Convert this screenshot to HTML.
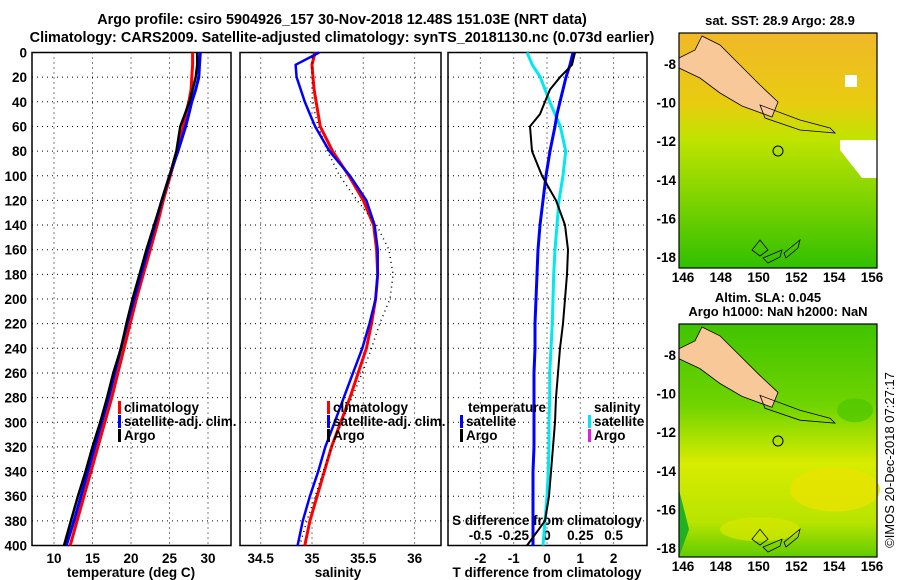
<!DOCTYPE html>
<html><head><meta charset="utf-8"><style>
html,body{margin:0;padding:0;background:#fff;overflow:hidden;}
svg{display:block;font-family:"Liberation Sans",Arial,sans-serif;font-weight:bold;}
</style></head><body>
<svg id="fig" width="900" height="580" viewBox="0 0 900 580" xmlns="http://www.w3.org/2000/svg">
<defs>
<linearGradient id="sstg" x1="0" y1="0" x2="0" y2="1">
<stop offset="0" stop-color="#f0b828"/><stop offset="0.3" stop-color="#e8cc10"/><stop offset="0.45" stop-color="#c0e400"/><stop offset="0.7" stop-color="#80d400"/><stop offset="1" stop-color="#30c000"/>
</linearGradient>
<linearGradient id="slag" x1="0" y1="0" x2="0" y2="1">
<stop offset="0" stop-color="#40c400"/><stop offset="0.35" stop-color="#70d400"/><stop offset="0.6" stop-color="#d8ec00"/><stop offset="0.85" stop-color="#b8e400"/><stop offset="1" stop-color="#60cc00"/>
</linearGradient>
</defs>
</svg>
<script>
// ---- data ----
const depths = [0,10,20,30,40,50,60,80,100,120,140,160,180,200,220,240,260,280,300,320,340,360,380,400];
const tempArgo = [28.6,28.6,28.4,28.0,27.6,27.0,26.4,25.9,25.0,24.0,23.0,22.0,21.1,20.2,19.4,18.7,17.7,16.9,16.0,15.0,14.1,13.1,12.2,11.3];
const tempClim = [28.0,28.0,27.9,27.8,27.5,27.1,26.8,26.0,25.1,24.2,23.4,22.5,21.6,20.7,19.9,19.1,18.3,17.5,16.6,15.7,14.8,13.9,13.0,12.1];
const tempSat = [29.0,28.9,28.8,28.4,27.9,27.5,27.1,26.1,25.0,24.0,23.1,22.2,21.3,20.4,19.5,18.7,17.9,17.1,16.2,15.3,14.4,13.5,12.6,11.6];
const salArgo = [35.01,35.0,35.0,35.0,35.01,35.03,35.06,35.15,35.27,35.44,35.63,35.75,35.79,35.76,35.66,35.58,35.49,35.39,35.29,35.19,35.11,35.03,34.95,34.88];
const salClim = [35.03,35.0,35.01,35.02,35.04,35.06,35.08,35.2,35.36,35.5,35.6,35.63,35.64,35.62,35.58,35.53,35.45,35.37,35.28,35.19,35.12,35.05,34.98,34.93];
const salSat = [35.07,34.84,34.85,34.89,34.93,34.98,35.03,35.17,35.37,35.53,35.61,35.64,35.64,35.62,35.56,35.49,35.4,35.31,35.22,35.13,35.06,34.98,34.91,34.86];
const dTArgo = [0.84,0.75,0.39,0.09,-0.06,-0.21,-0.51,-0.45,-0.15,0.27,0.54,0.63,0.6,0.54,0.48,0.39,0.33,0.27,0.24,0.18,0.12,0.06,-0.06,-0.6];
const dTSat = [0.78,0.69,0.57,0.48,0.39,0.3,0.24,0.09,-0.03,-0.12,-0.21,-0.27,-0.3,-0.33,-0.36,-0.36,-0.39,-0.39,-0.39,-0.39,-0.42,-0.42,-0.42,-0.42];
const dSSat = [-0.15,-0.11,-0.05,-0.015,0.02,0.06,0.1,0.14,0.12,0.09,0.075,0.06,0.05,0.045,0.04,0.03,0.02,0.02,0.015,0.015,0.01,0,-0.015,-0.03];
const depthTicks = [0,20,40,60,80,100,120,140,160,180,200,220,240,260,280,300,320,340,360,380,400];
const tempTicks = [10,15,20,25,30];
const salTicks = [34.5,35,35.5,36];
const dTTicks = [-2,-1,0,1,2];
const dSTicks = [-0.5,-0.25,0,0.25,0.5];
const dSTickLabels = ["-0.5","-0.25","0","0.25","0.5"];
const lonTicks = [146,148,150,152,154,156];
const latTicks = [-8,-10,-12,-14,-16,-18];

const NS="http://www.w3.org/2000/svg";
const svg=document.getElementById('fig');
function mk(tag,attrs,parent){const e=document.createElementNS(NS,tag);for(const k in attrs)e.setAttribute(k,attrs[k]);(parent||svg).appendChild(e);return e;}
function txt(s,x,y,anchor,size,parent){const t=mk('text',{x:x,y:y,'text-anchor':anchor||'middle','font-size':size||13},parent);t.textContent=s;return t;}

const yD=d=>52.5+d*1.2325;
const xT=v=>54+(v-10)*7.7;
const xS=v=>312+(v-35)*102.6;
const xDT=v=>547+v*33.3;
const xDS=v=>547+v*133.3;
const panels=[{x0:32,x1:231,name:'temperature'},{x0:240,x1:441,name:'salinity'},{x0:448,x1:647,name:'difference'}];
const FS=13.5;

let t=txt('Argo profile: csiro 5904926_157 30-Nov-2018 12.48S 151.03E (NRT data)',342,24,'middle',14.4);


t=txt('Climatology: CARS2009. Satellite-adjusted climatology: synTS_20181130.nc (0.073d earlier)',342,42,'middle',14.4);



panels.forEach((p,i)=>{
  const g=mk('g',{});
  
  
  depthTicks.forEach(d=>{
    if(d>0&&d<400){const l=mk('line',{x1:p.x0,x2:p.x1,y1:yD(d),y2:yD(d),stroke:'#000','stroke-dasharray':'1 4'},g);
    
    }
  });
  let xs, xf;
  if(i==0){xs=tempTicks;xf=xT;} else if(i==1){xs=salTicks;xf=xS;} else {xs=dTTicks;xf=xDT;}
  xs.forEach(v=>{
    const l=mk('line',{x1:xf(v),x2:xf(v),y1:yD(0),y2:yD(400),stroke:'#000','stroke-dasharray':'1 4'},g);
    
    
    const lb=txt(String(v),xf(v),563,'middle',FS,g);
    
    
  });
  const r=mk('rect',{x:p.x0,y:yD(0),width:p.x1-p.x0,height:yD(400)-yD(0),fill:'none',stroke:'#000','stroke-width':1.5},g);
  
  
});
depthTicks.forEach(d=>{
  const lb=txt(String(d),27,yD(d)+5,'end',FS);
  
  
});
t=txt('temperature (deg C)',131,577,'middle',FS);


t=txt('salinity',338,577,'middle',FS);


t=txt('T difference from climatology',547,577,'middle',FS);


t=txt('S difference from climatology',547,525,'middle',FS);


dSTicks.forEach((v,k)=>{
  const lb=txt(dSTickLabels[k],xDS(v),540,'middle',FS);
  
  
});

function line(vals,xf,color,w,dash,name){
  const pts=vals.map((v,k)=>xf(v).toFixed(1)+','+yD(depths[k]).toFixed(1)).join(' ');
  const a={points:pts,fill:'none',stroke:color,'stroke-width':w,'stroke-linejoin':'round'};
  if(dash)a['stroke-dasharray']=dash;
  const e=mk('polyline',a);
  
  
}
line(tempClim,xT,'#ff0000',3,null,'temp-climatology-line');
line(tempSat,xT,'#0000ff',3,null,'temp-satellite-line');
line(tempArgo,xT,'#000',2.5,null,'temp-argo-line');
line(salClim,xS,'#ff0000',3,null,'sal-climatology-line');
line(salSat,xS,'#0000ff',2.5,null,'sal-satellite-line');
line(salArgo,xS,'#000',1.5,'1 4','sal-argo-line');
line(dSSat,xDS,'#00e8f0',3,null,'sdiff-satellite-line');
line(dTSat,xDT,'#0000ff',3,null,'tdiff-satellite-line');
line(dTArgo,xDT,'#000',2,null,'tdiff-argo-line');

function legend(x,y,color,label,name){
  const g=mk('g',{});
  
  
  mk('rect',{x:x,y:y-11,width:3,height:13,fill:color},g);
  txt(label,x+6,y,'start',FS,g);
}
[[118,0],[327,1]].forEach(([lx,k])=>{
  legend(lx,412,'#ff0000','climatology','legend-climatology');
  legend(lx,426,'#0000ff','satellite-adj. clim.','legend-satellite-adj');
  legend(lx,440,'#000','Argo','legend-argo');
});
t=txt('temperature',468,412,'start',FS);


legend(460,426,'#0000ff','satellite','legend-temp-satellite');
legend(460,440,'#000','Argo','legend-temp-argo');
t=txt('salinity',594,412,'start',FS);


legend(588,426,'#00e8f0','satellite','legend-sal-satellite');
legend(588,440,'#e020e0','Argo','legend-sal-argo');

function map(y0,y1,fill,name,lat0){
  const g=mk('g',{});
  
  
  const x0=679,x1=877;
  mk('rect',{x:x0,y:y0,width:x1-x0,height:y1-y0,fill:fill},g);
  const h=y1-y0, s=h/235;
  const Y=v=>y0+(v-33)*s;
  if(name==='sst-map'){
    mk('polygon',{points:`840,${Y(140)} 877,${Y(140)} 877,${Y(178)} 862,${Y(178)} 840,${Y(150)}`,fill:'#fff'},g);
    mk('rect',{x:845,y:Y(75),width:12,height:12,fill:'#fff'},g);
  } else {
    mk('ellipse',{cx:835,cy:Y(200),rx:45,ry:22,fill:'#e8e400',opacity:0.8},g);
    mk('ellipse',{cx:760,cy:Y(240),rx:40,ry:12,fill:'#d8e800',opacity:0.7},g);
    mk('ellipse',{cx:855,cy:Y(120),rx:18,ry:12,fill:'#50c800',opacity:0.8},g);
    mk('polygon',{points:`${x0},${Y(200)} ${x0+10},${Y(240)} ${x0},${Y(268)}`,fill:'#20b020'},g);
  }
  mk('polygon',{points:`702,${Y(36)} 720,${Y(45)} 740,${Y(65)} 760,${Y(85)} 778,${Y(102)} 772,${Y(117)} 742,${Y(106)} 720,${Y(93)} 700,${Y(78)} ${x0},${Y(68)} ${x0},${Y(58)} 695,${Y(50)}`,fill:'#f8c898',stroke:'#000','stroke-width':0.8},g);
  mk('polygon',{points:`760,${Y(105)} 800,${Y(120)} 830,${Y(128)} 835,${Y(133)} 800,${Y(130)} 765,${Y(118)}`,fill:'none',stroke:'#000','stroke-width':0.8},g);
  mk('polygon',{points:`752,${Y(250)} 760,${Y(240)} 768,${Y(250)} 760,${Y(256)}`,fill:'none',stroke:'#000','stroke-width':0.8},g);
  mk('polygon',{points:`763,${Y(258)} 782,${Y(250)} 780,${Y(257)} 768,${Y(263)}`,fill:'none',stroke:'#000','stroke-width':0.8},g);
  mk('polygon',{points:`784,${Y(253)} 800,${Y(240)} 798,${Y(248)} 786,${Y(258)}`,fill:'none',stroke:'#000','stroke-width':0.8},g);
  mk('circle',{cx:778,cy:Y(151),r:5,fill:'none',stroke:'#000','stroke-width':1},g);
  mk('rect',{x:x0,y:y0,width:x1-x0,height:h,fill:'none',stroke:'#000','stroke-width':1.2},g);
  const xL=v=>683+(v-146)*18.9;
  const yL=v=>lat0+(-8-v)*19.3;
  lonTicks.forEach(v=>{
    const lb=txt(String(v),xL(v),y1+14,'middle',FS,g);
    
    
  });
  latTicks.forEach(v=>{
    const lb=txt(String(v),676,yL(v)+5,'end',FS,g);
    
    
  });
}
map(33,268,'url(#sstg)','sst-map',64);
map(324,557,'url(#slag)','sla-map',355);
t=txt('sat. SST: 28.9 Argo: 28.9',780,25,'middle',13);


t=txt('Altim. SLA: 0.045',768,302,'middle',13);


t=txt('Argo h1000: NaN h2000: NaN',778,316,'middle',13);


t=mk('text',{x:0,y:0,'text-anchor':'middle','font-size':13,'font-weight':'normal',transform:'translate(894,460) rotate(-90)'});
t.textContent='©IMOS 20-Dec-2018 07:27:17';


</script>
</body></html>
